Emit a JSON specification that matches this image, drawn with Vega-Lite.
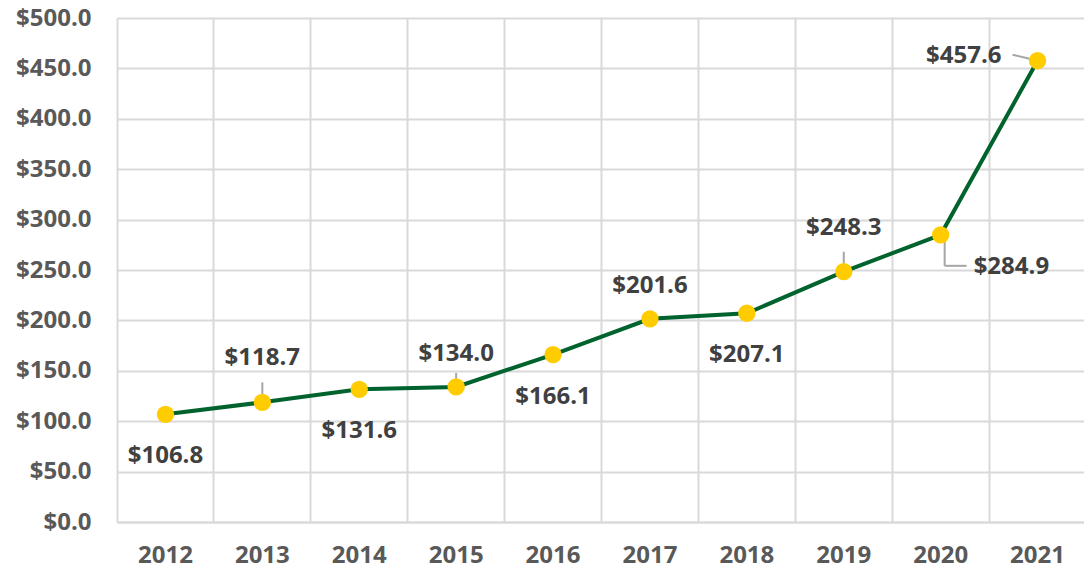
{
  "$schema": "https://vega.github.io/schema/vega-lite/v6.json",
  "width": 969,
  "height": 504,
  "autosize": {"type": "none"},
  "padding": {"left": 117, "top": 18, "right": 0, "bottom": 52},
  "background": "white",
  "config": {
    "view": {"stroke": null},
    "font": "Open Sans"
  },
  "data": {
    "values": [
      {"year": "2012", "value": 106.8},
      {"year": "2013", "value": 118.7},
      {"year": "2014", "value": 131.6},
      {"year": "2015", "value": 134.0},
      {"year": "2016", "value": 166.1},
      {"year": "2017", "value": 201.6},
      {"year": "2018", "value": 207.1},
      {"year": "2019", "value": 248.3},
      {"year": "2020", "value": 284.9},
      {"year": "2021", "value": 457.6}
    ]
  },
  "encoding": {
    "x": {
      "field": "year",
      "type": "ordinal",
      "scale": {"type": "band", "paddingInner": 0, "paddingOuter": 0},
      "axis": {
        "title": null,
        "labelAngle": 0,
        "labelFont": "Open Sans",
        "labelFontSize": 24,
        "labelFontWeight": "bold",
        "labelColor": "#595959",
        "labelPadding": 21,
        "ticks": false,
        "domainColor": "#d9d9d9",
        "domainWidth": 2,
        "grid": true,
        "bandPosition": 0,
        "gridColor": "#d9d9d9",
        "gridWidth": 2
      }
    },
    "y": {
      "field": "value",
      "type": "quantitative",
      "scale": {"domain": [0, 500], "nice": false},
      "axis": {
        "title": null,
        "values": [0, 50, 100, 150, 200, 250, 300, 350, 400, 450, 500],
        "format": "$.1f",
        "labelFont": "Open Sans",
        "labelFontSize": 24,
        "labelFontWeight": "bold",
        "labelColor": "#595959",
        "labelPadding": 26,
        "ticks": false,
        "domain": false,
        "gridColor": "#d9d9d9",
        "gridWidth": 2
      }
    }
  },
  "layer": [
    {
      "transform": [{"filter": "datum.year == '2013' || datum.year == '2019'"}],
      "mark": {"type": "rule", "color": "#a6a6a6", "strokeWidth": 2, "yOffset": -20, "y2Offset": -3},
      "encoding": {"y2": {"field": "value"}}
    },
    {
      "transform": [{"filter": "datum.year == '2015'"}],
      "mark": {"type": "rule", "color": "#a6a6a6", "strokeWidth": 2, "yOffset": -14, "y2Offset": 0},
      "encoding": {"y2": {"field": "value"}}
    },
    {
      "transform": [{"filter": "datum.year == '2020'"}],
      "mark": {"type": "rule", "color": "#a6a6a6", "strokeWidth": 2, "xOffset": 4, "yOffset": 6, "y2Offset": 31},
      "encoding": {"y2": {"field": "value"}}
    },
    {
      "transform": [{"filter": "datum.year == '2020'"}],
      "mark": {"type": "rule", "color": "#a6a6a6", "strokeWidth": 2, "xOffset": 4, "x2Offset": 26, "yOffset": 31},
      "encoding": {"x2": {"field": "year"}}
    },
    {
      "transform": [{"filter": "datum.year == '2021'"}],
      "mark": {"type": "rule", "color": "#a6a6a6", "strokeWidth": 2, "xOffset": -25, "x2Offset": -4, "yOffset": -6, "y2Offset": -1},
      "encoding": {"x2": {"field": "year"}, "y2": {"field": "value"}}
    },
    {
      "mark": {"type": "line", "color": "#00632e", "strokeWidth": 4}
    },
    {
      "mark": {"type": "point", "filled": true, "size": 300, "color": "#ffcc00", "opacity": 1}
    },
    {
      "transform": [{"filter": "indexof(['2012','2014','2016','2018'], datum.year) >= 0"}],
      "mark": {"type": "text", "dy": 42, "fontSize": 24, "fontWeight": "bold", "color": "#404040", "baseline": "middle"},
      "encoding": {"text": {"field": "value", "type": "quantitative", "format": "$.1f"}}
    },
    {
      "transform": [{"filter": "datum.year == '2013' || datum.year == '2019'"}],
      "mark": {"type": "text", "dy": -44, "fontSize": 24, "fontWeight": "bold", "color": "#404040", "baseline": "middle"},
      "encoding": {"text": {"field": "value", "type": "quantitative", "format": "$.1f"}}
    },
    {
      "transform": [{"filter": "datum.year == '2015' || datum.year == '2017'"}],
      "mark": {"type": "text", "dy": -33, "fontSize": 24, "fontWeight": "bold", "color": "#404040", "baseline": "middle"},
      "encoding": {"text": {"field": "value", "type": "quantitative", "format": "$.1f"}}
    },
    {
      "transform": [{"filter": "datum.year == '2020'"}],
      "mark": {"type": "text", "dx": 33, "dy": 32, "align": "left", "fontSize": 24, "fontWeight": "bold", "color": "#404040", "baseline": "middle"},
      "encoding": {"text": {"field": "value", "type": "quantitative", "format": "$.1f"}}
    },
    {
      "transform": [{"filter": "datum.year == '2021'"}],
      "mark": {"type": "text", "dx": -36, "dy": -5, "align": "right", "fontSize": 24, "fontWeight": "bold", "color": "#404040", "baseline": "middle"},
      "encoding": {"text": {"field": "value", "type": "quantitative", "format": "$.1f"}}
    }
  ]
}
